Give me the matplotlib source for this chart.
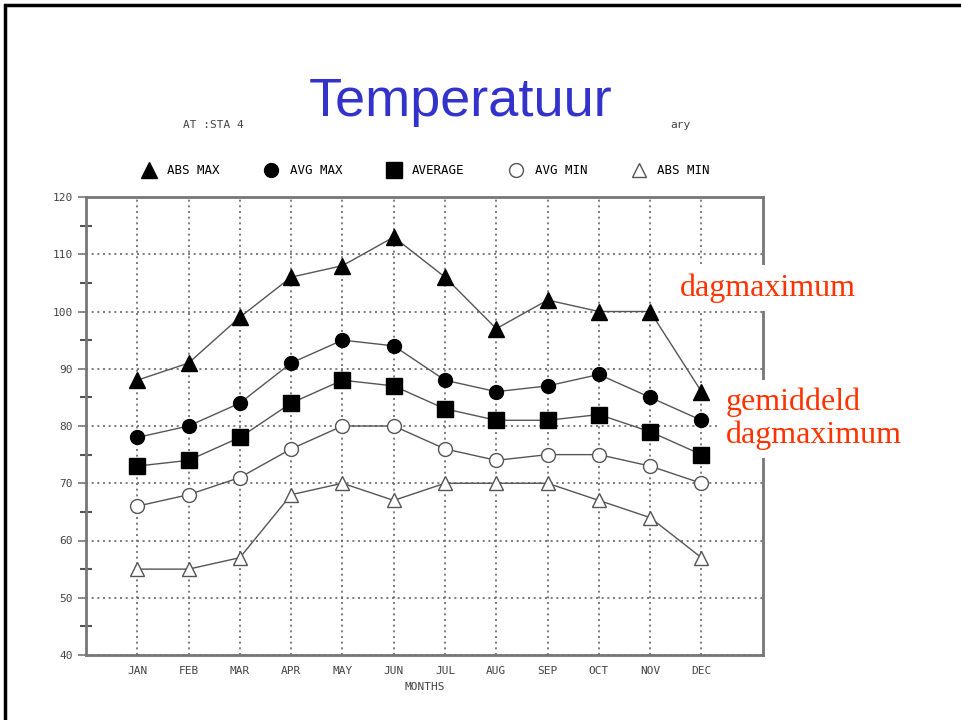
import numpy as np
import matplotlib
matplotlib.use("Agg")
import matplotlib.pyplot as plt
from matplotlib.lines import Line2D
from matplotlib.patches import Rectangle

months = ["JAN", "FEB", "MAR", "APR", "MAY", "JUN", "JUL", "AUG", "SEP", "OCT", "NOV", "DEC"]
abs_max = [88, 91, 99, 106, 108, 113, 106, 97, 102, 100, 100, 86]
avg_max = [78, 80, 84, 91, 95, 94, 88, 86, 87, 89, 85, 81]
average = [73, 74, 78, 84, 88, 87, 83, 81, 81, 82, 79, 75]
avg_min = [66, 68, 71, 76, 80, 80, 76, 74, 75, 75, 73, 70]
abs_min = [55, 55, 57, 68, 70, 67, 70, 70, 70, 67, 64, 57]

fig = plt.figure(figsize=(9.61, 7.2), dpi=100)
ax = fig.add_axes([86/961, 1-655/720, 677/961, 458/720])

x = np.arange(1, len(months) + 1)
mono = "DejaVu Sans Mono"
grey = "#777777"

# series: values, marker, face colour, size
series = [
    (abs_max, "^", "black", 11, "ABS MAX"),
    (avg_max, "o", "black", 10, "AVG MAX"),
    (average, "s", "black", 11, "AVERAGE"),
    (avg_min, "o", "white", 10, "AVG MIN"),
    (abs_min, "^", "white", 10.5, "ABS MIN"),
]

handles = []
for vals, mk, fc, ms, name in series:
    ec = "black" if fc == "black" else "#555555"
    ax.plot(x, vals, color="#555555", lw=1.0, zorder=3)
    ax.plot(x, vals, ls="none", marker=mk, ms=ms, mfc=fc, mec=ec, mew=1.0, zorder=4)
    handles.append(Line2D([], [], ls="none", marker=mk, ms=ms, mfc=fc, mec=ec, mew=1.0, label=name))

ax.set_xlim(0, 13.2)
ax.set_ylim(40, 120)
ax.set_xticks(x)
ax.set_xticklabels(months, family=mono, fontsize=8, color="#444444")
ax.set_yticks(np.arange(40, 121, 10))
ax.set_yticks(np.arange(45, 120, 10), minor=True)
ax.tick_params(axis="y", which="major", length=6, width=1.2, color=grey,
               labelsize=8, labelcolor="#444444", direction="out")
ax.tick_params(axis="y", which="minor", length=8, width=1.5, color="#555555", direction="inout")
ax.tick_params(axis="x", length=0, pad=8)
for lab in ax.get_yticklabels():
    lab.set_family(mono)
ax.set_xlabel("MONTHS", family=mono, fontsize=8, color="#444444", labelpad=4)

ax.grid(True, which="major", ls=(0, (1.2, 2.2)), color="#666666", lw=1.2)
for s in ax.spines.values():
    s.set_color(grey)
    s.set_linewidth(2)

ax.legend(handles=handles, ncol=5, loc="center", bbox_to_anchor=(426/961, 1-171/720),
          bbox_transform=fig.transFigure, frameon=False, handlelength=1.0,
          handletextpad=1.0, columnspacing=3.6, prop={"family": mono, "size": 9})

# heading texts
fig.text(461/961, 1-102/720, "Temperatuur", ha="center", va="center",
         fontsize=39, color="#3333cc", family="Liberation Sans")
fig.text(183/961, 1-125/720, "AT :STA 4", ha="left", va="center",
         family=mono, fontsize=8, color="#444444")
fig.text(670/961, 1-125/720, "ary", ha="left", va="center",
         family=mono, fontsize=8, color="#444444")

# red annotations
red = "#ff3300"
fig.text(680/961, 1-288/720, "dagmaximum", ha="left", va="center", fontsize=23,
         color=red, family="Liberation Serif",
         bbox=dict(facecolor="white", edgecolor="none", pad=6))
fig.text(726/961, 1-419/720, "gemiddeld\ndagmaximum", ha="left", va="center", fontsize=23,
         color=red, family="Liberation Serif", linespacing=1.15,
         bbox=dict(facecolor="white", edgecolor="none", pad=6))

# slide border
fig.patches.append(Rectangle((5/961, -0.1), 1.2, 1.1 - 5/720, transform=fig.transFigure,
                             fill=False, edgecolor="black", lw=2.5))

fig.savefig("out.png", dpi=100)
